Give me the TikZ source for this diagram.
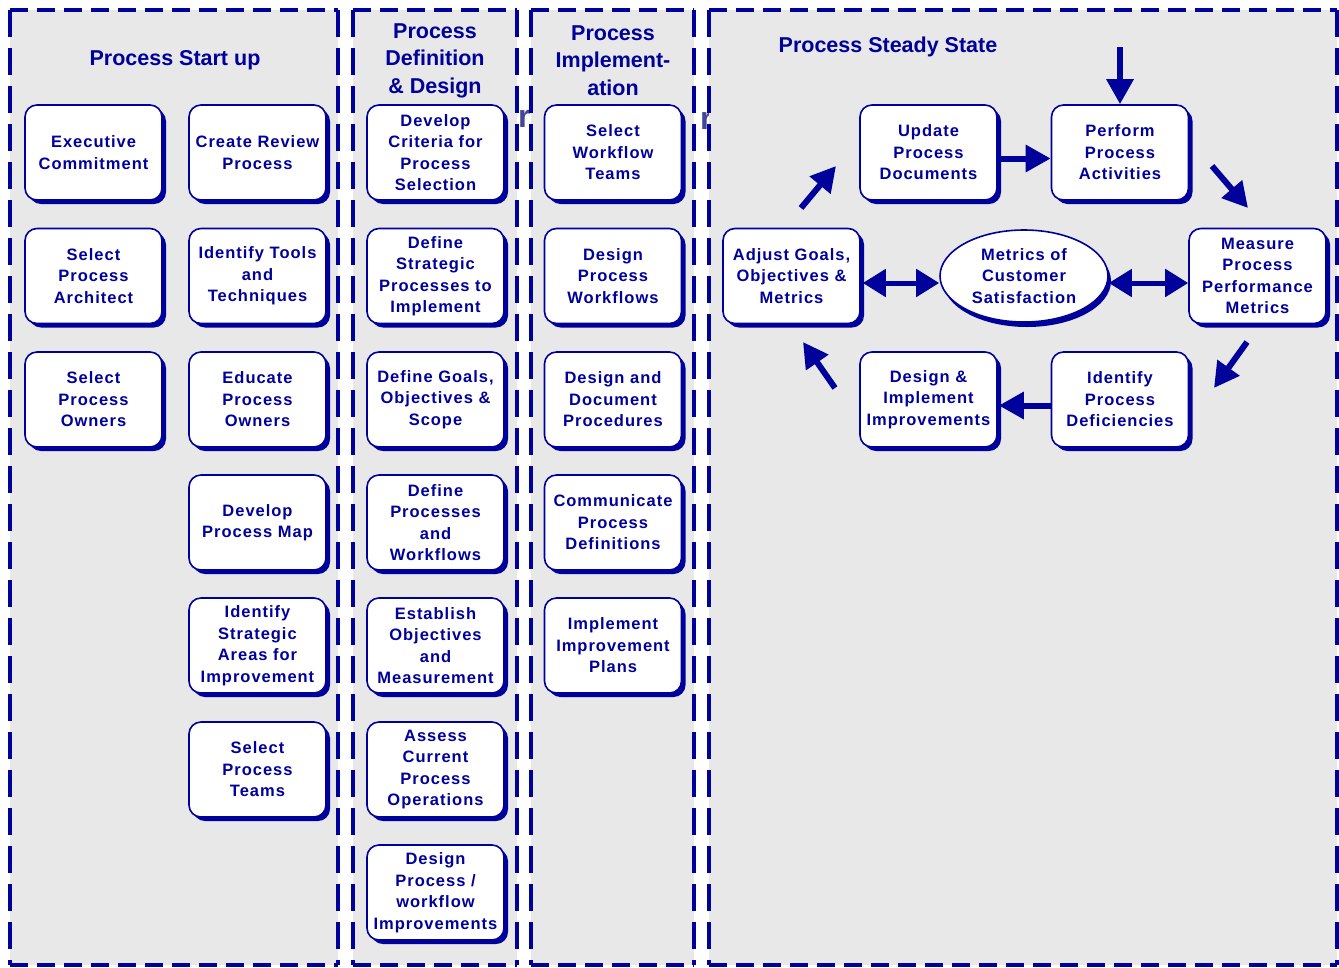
\documentclass[tikz,border=0pt]{standalone}
\usepackage{fontspec}
\setmainfont{Liberation Sans}
\newfontfamily\boxfam{Liberation Sans}[LetterSpace=6]
\usetikzlibrary{shapes.geometric,shadows,arrows.meta,calc}
\definecolor{ink}{RGB}{0,0,155}
\definecolor{panelgray}{RGB}{232,232,232}
\definecolor{ghost}{RGB}{70,70,150}
\newcommand\boxfont{\boxfam\fontsize{16.5}{21.5}\selectfont\bfseries}
\newcommand\ttlfont{\fontsize{21.5}{27.5}\selectfont\bfseries}
\newcommand\mypanel[4]{%
  \fill[panelgray] (#1,#2) rectangle (#3,#4);
  \draw[vdash] (#1,#2) -- (#1,#4);
  \draw[vdash] (#3,#2) -- (#3,#4);
  \draw[hdash] (#1,#2) -- (#3,#2);
  \draw[hdash] (#1,#4) -- (#3,#4);}
\begin{document}
\begin{tikzpicture}[x=1pt,y=-1pt,
  vdash/.style={draw=ink, line width=4pt, dash pattern=on 27pt off 11pt},
  hdash/.style={draw=ink, line width=3.5pt, dash pattern=on 18pt off 9pt},
  box/.style={rectangle, rounded corners=12pt, draw=ink, line width=1.6pt, fill=white,
    minimum width=137pt, minimum height=95pt, inner sep=0pt, align=center, text=ink,
    font=\boxfont, drop shadow={shadow xshift=4pt, shadow yshift=-4pt, fill=ink, opacity=1}},
  ellbox/.style={ellipse, draw=ink, line width=1.6pt, fill=white, minimum width=168pt,
    minimum height=92pt, inner sep=0pt, align=center, text=ink, font=\boxfont,
    drop shadow={shadow xshift=3pt, shadow yshift=-5pt, fill=ink, opacity=1}},
  ttl/.style={text=ink, font=\ttlfont, align=center, inner sep=0pt},
  ghosttxt/.style={text=ghost, font=\fontsize{32}{32}\selectfont\bfseries, inner sep=0pt, anchor=base west},
  arr/.style={draw=ink, line width=6pt, -{Triangle[length=25pt,width=26pt]}},
  dbl/.style={draw=ink, line width=5pt, {Triangle[length=23pt,width=27pt]}-{Triangle[length=23pt,width=27pt]}}
]
\useasboundingbox (0,0) rectangle (1339,967);
% panels
\mypanel{10}{10}{338}{965}
\mypanel{353}{10}{517}{965}
\node[ghosttxt] (g1) at (518,127) {r};
\mypanel{531}{10}{694}{965}
\node[ghosttxt] (g2) at (700,129) {r};
\mypanel{709}{10}{1337}{965}

% titles
\node[ttl] (t1) at (175,60) {Process Start up};
\node[ttl] (t2) at (435,60.5) {Process\\Definition\\\& Design};
\node[ttl] (t3) at (613,60.5) {Process\\Implement-\\ation};
\node[ttl] (t4) at (888,47) {Process Steady State};

% panel 1
\node[box] (a1) at (93.5,152.5) {Executive\\Commitment};
\node[box] (b1) at (257.5,152.5) {Create Review\\Process};
\node[box] (a2) at (93.5,276) {Select\\Process\\Architect};
\node[box] (b2) at (257.5,276) {Identify Tools\\and\\Techniques};
\node[box] (a3) at (93.5,399.5) {Select\\Process\\Owners};
\node[box] (b3) at (257.5,399.5) {Educate\\Process\\Owners};
\node[box] (b4) at (257.5,522.5) {Develop\\Process Map};
\node[box] (b5) at (257.5,645.5) {Identify\\Strategic\\Areas for\\Improvement};
\node[box] (b6) at (257.5,769.5) {Select\\Process\\Teams};

% panel 2
\node[box] (c1) at (435.5,152.5) {Develop\\Criteria for\\Process\\Selection};
\node[box] (c2) at (435.5,276) {Define\\Strategic\\Processes to\\Implement};
\node[box] (c3) at (435.5,399.5) {Define Goals,\\Objectives \&\\Scope};
\node[box] (c4) at (435.5,522.5) {Define\\Processes\\and\\Workflows};
\node[box] (c5) at (435.5,645.5) {Establish\\Objectives\\and\\Measurement};
\node[box] (c6) at (435.5,769.5) {Assess\\Current\\Process\\Operations};
\node[box] (c7) at (435.5,892.5) {Design\\Process /\\workflow\\Improvements};

% panel 3
\node[box] (d1) at (613,152.5) {Select\\Workflow\\Teams};
\node[box] (d2) at (613,276) {Design\\Process\\Workflows};
\node[box] (d3) at (613,399.5) {Design and\\Document\\Procedures};
\node[box] (d4) at (613,522.5) {Communicate\\Process\\Definitions};
\node[box] (d5) at (613,645.5) {Implement\\Improvement\\Plans};

% panel 4
\node[box] (upd) at (928.5,152.5) {Update\\Process\\Documents};
\node[box] (prf) at (1120,152.5) {Perform\\Process\\Activities};
\node[box] (adj) at (791.5,276) {Adjust Goals,\\Objectives \&\\Metrics};
\node[ellbox] (ell) at (1024,276) {Metrics of\\Customer\\Satisfaction};
\node[box] (mea) at (1257.5,276) {Measure\\Process\\Performance\\Metrics};
\node[box] (des) at (928.5,399.5) {Design \&\\Implement\\Improvements};
\node[box] (idf) at (1120,399.5) {Identify\\Process\\Deficiencies};

% connectors
\coordinate (top) at (1120,47);
\draw[arr] (top) -- (prf.north);
\draw[arr] ($(upd.east)+(-2,6)$) -- ($(prf.west)+(0,6)$);
\draw[arr] ($(idf.west)+(1,6)$) -- ($(des.east)+(1,6)$);
\draw[dbl] ($(adj.east)+(2,7)$) -- ($(ell.west)+(0,7)$);
\draw[dbl] ($(ell.east)+(0,7)$) -- ($(mea.west)+(0,7)$);
\coordinate (q1a) at (801,208);
\coordinate (q1b) at (836,166);
\coordinate (q2a) at (1212,166);
\coordinate (q2b) at (1248,208);
\coordinate (q3a) at (1247,342);
\coordinate (q3b) at (1214,388);
\coordinate (q4a) at (835,388);
\coordinate (q4b) at (803,342);
\draw[arr] (q1a) -- (q1b);
\draw[arr] (q2a) -- (q2b);
\draw[arr] (q3a) -- (q3b);
\draw[arr] (q4a) -- (q4b);
\end{tikzpicture}
\end{document}
